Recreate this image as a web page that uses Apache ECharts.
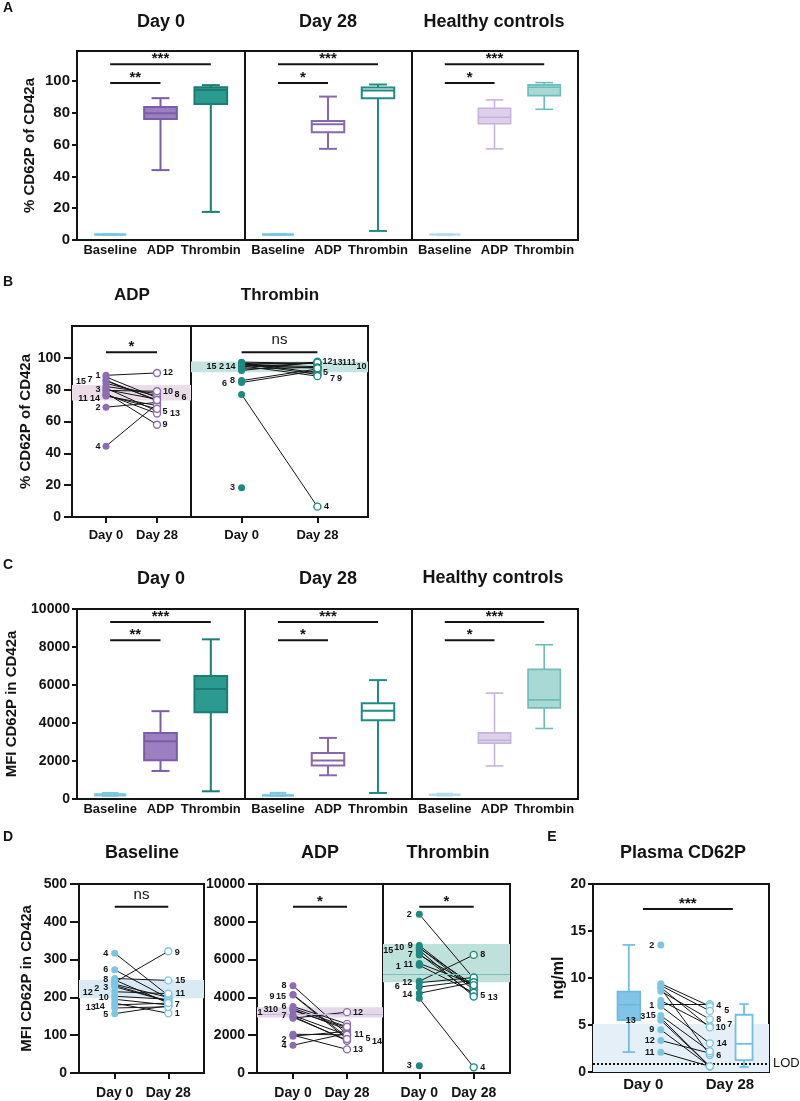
<!DOCTYPE html>
<html>
<head>
<meta charset="utf-8">
<title>CD62P</title>
<script src="https://cdn.jsdelivr.net/npm/echarts@6/dist/echarts.min.js"></script>
<style>
html, body { margin: 0; padding: 0; background: #fff; }
#chart { width: 800px; height: 1101px; }
</style>
</head>
<body>
<div id="chart"></div>
<script>
// ---------- data ----------
const boxCats = ['Baseline', 'ADP', 'Thrombin'];
const dayCats = ['Day 0', 'Day 28'];
const pctTicks = [0, 20, 40, 60, 80, 100];
const mfiTicks = [0, 2000, 4000, 6000, 8000, 10000];
const baseMfiTicks = [0, 100, 200, 300, 400, 500];
const plasmaTicks = [0, 5, 10, 15, 20];

// box stats [min, q1, median, q3, max]; order Baseline, ADP, Thrombin
const pctDay0 = [[3.1, 3.3, 3.4, 3.6, 3.8], [44.0, 76.2, 79.8, 83.8, 89.3], [17.7, 85.7, 94.5, 96.2, 97.5]];
const pctDay28 = [[3.1, 3.3, 3.4, 3.6, 3.8], [57.4, 67.8, 72.9, 74.9, 90.3], [5.7, 89.3, 94.1, 96.0, 97.9]];
const pctHealthy = [[3.1, 3.3, 3.4, 3.6, 3.8], [57.4, 73.2, 77.3, 83.0, 88.2], [82.3, 90.9, 96.2, 97.7, 99.1]];
const mfiDay0 = [[157, 185, 228, 246, 317], [1476, 2040, 3042, 3480, 4623], [406, 4570, 5783, 6468, 8403]];
const mfiDay28 = [[158, 180, 190, 205, 322], [1249, 1760, 2024, 2425, 3216], [316, 4149, 4639, 5045, 6257]];
const mfiHealthy = [[170, 198, 222, 246, 290], [1740, 2936, 3094, 3480, 5572], [3711, 4797, 5219, 6821, 8118]];
const plasmaDay0Box = [2.12, 5.52, 7.15, 8.56, 13.52];
const plasmaDay28Box = [0.53, 1.27, 3.0, 6.09, 7.22];

// paired values, patients 1..15 (null = not measured)
const adpPctD0 = [88, 69, 80, 44.5, 81, 84, 86, 82, 78, 79.5, 76, 89, 77, 76.5, 85.5];
const adpPctD28 = [75, 72, 74, 71, 66.5, 76, 73, 77.5, 58, 79, 70, 90.5, 65, 68, 73.5];
const thrPctD0 = [96, 95.5, 18.3, 77, 97, 84.5, 96.5, 85.7, 95, 97.3, 94, 92, 96, 93, 95.5];
const thrPctD28 = [96.5, 94.5, null, 6.5, 90.5, 92, 89.5, 93, 88.5, 96.5, 96.8, 97.5, 97, 94, 93.5];
const baseMfiD0 = [185, 235, 228, 317, 157, 273, 195, 246, 240, 203, 215, 232, 172, 180, 250];
const baseMfiD28 = [158, 200, 190, 205, 178, 198, 180, 185, 322, 195, 210, 190, 175, 185, 245];
const adpMfiD0 = [3300, 1950, 3350, 1470, 2950, 3520, 3050, 4620, 4150, 3420, 2050, 2900, 2000, 3000, 4130];
const adpMfiD28 = [2400, 2200, 2300, 2100, 1750, 2600, 2000, 2050, 1900, 2450, 2020, 3220, 1250, 1700, 1800];
const thrMfiD0 = [5800, 8400, 380, 3950, 6300, 4550, 6250, 4850, 6750, 6650, 5700, 4780, 6500, 4220, 6600];
const thrMfiD28 = [4700, 5000, null, 300, 4150, 4900, 4600, 6250, 4500, 4400, 4250, 5050, 4050, 4800, 4650];
const plasmaD0 = [7.2, 13.5, 5.75, 9.4, 9.2, 8.9, 7.6, 8.6, 4.5, 9.0, 2.1, 3.35, 5.5, 7.0, 6.0];
const plasmaD28 = [7.2, null, 0.6, 7.0, 6.5, 1.8, 4.9, 5.6, 0.6, 4.75, 0.6, 2.0, 0.6, 3.05, 2.2];
const plasmaRefRange = [0, 5.1];
const plasmaLod = 0.9;

// significance bars [from, to, level] and their marks
const sigPctBars = [[0, 2, 110.7], [0, 1, 98.9]];
const sigMfiBars = [[0, 2, 9310], [0, 1, 8350]];
const sigDay0 = ['***', '**'];
const sigOther = ['***', '*'];
const sigPairPct = [[0, 1, 103.5]];
const sigBaseMfi = [[0, 1, 440]];
const sigPairMfi = [[0, 1, 8800]];
const sigPlasma = [[0.44, 3.25, 17.35]];

// ---------- styles ----------
const FONT = "'Liberation Sans', Arial, Helvetica, sans-serif";
const INK = '#141414';
const PURPLE = '#8c6cb2';
const TEAL = '#1c8a80';
const SKY = '#7cc6e4';

const LOOK = {
  base: { fill: '#a9daed', stroke: '#7cc6e3', lw: 2, w: 0.6 },
  baseHc: { fill: '#d3ecf5', stroke: '#b3dcec', lw: 1.6, w: 0.6 },
  adp0: { fill: '#9b7fc1', stroke: '#7b5da7', lw: 2, w: 0.65 },
  thr0: { fill: '#2b9b90', stroke: '#1b7d74', lw: 2, w: 0.65 },
  adp28: { fill: '#ffffff', stroke: '#8768ae', lw: 2, w: 0.65 },
  thr28: { fill: '#ffffff', stroke: '#1f8c82', lw: 2, w: 0.65 },
  adpHc: { fill: '#ddd0ea', stroke: '#c6b3dc', lw: 1.6, w: 0.65 },
  thrHc: { fill: '#a9d9d4', stroke: '#6dbeb6', lw: 1.6, w: 0.65 },
  pl0: { fill: '#80c5e8', stroke: '#6ab9df', lw: 1.6, w: 0.71 },
  pl28: { fill: '#ffffff', stroke: '#6ec1e4', lw: 1.8, w: 0.53 }
};

// patient label offsets [dx, dy] in px from the point
const LBL = {
  bAdp0: { 15: [-25, 1], 7: [-16, -1], 1: [-8, -1], 3: [-8, 0], 11: [-23, 2], 14: [-11, 3], 2: [-8, 0], 4: [-8, 0] },
  bAdp28: { 12: [11, 0], 10: [11, 0], 8: [20, 1], 6: [27, 1], 5: [8, 0], 13: [18, 0], 9: [8, 0] },
  bThr0: { 15: [-30, 2], 2: [-20, 2], 14: [-11, -2], 6: [-17, 1], 8: [-9, 0], 3: [-9, 0] },
  bThr28: { 12: [10, 0], 13: [20, 0], 1: [27, -1], 11: [34, 0], 10: [44, 3], 5: [8, 0], 7: [15, 4], 9: [22, 2], 4: [9, 0] },
  dBase0: { 4: [-9, 0], 6: [-9, 0], 8: [-9, 0], 3: [-9, 1], 2: [-18, 4], 12: [-27, 7], 10: [-11, 1], 14: [-15, 2], 13: [-24, 0], 5: [-9, 1] },
  dBase28: { 9: [9, 1], 15: [12, 0], 11: [12, 0], 7: [9, 0], 1: [9, 0] },
  dAdp0: { 8: [-9, 0], 9: [-21, 2], 15: [-12, 2], 6: [-9, 0], 10: [-20, 1], 3: [-27, 0], 1: [-33, 2], 7: [-9, 0], 2: [-9, 3], 4: [-9, 0] },
  dAdp28: { 12: [11, 0], 11: [12, 0], 5: [21, -1], 14: [30, 1], 13: [11, 0] },
  dThr0: { 2: [-10, 0], 9: [-9, 0], 10: [-20, 0], 15: [-31, 2], 7: [-9, 0], 1: [-21, 3], 11: [-11, -1], 12: [-12, 0], 6: [-22, 0], 14: [-12, 1], 3: [-10, 0] },
  dThr28: { 8: [9, 0], 5: [9, 1], 13: [19, 1], 4: [9, 0] },
  e0: { 2: [-9, 0], 1: [-9, 1], 15: [-10, 0], 3: [-18, -1], 13: [-30, 0], 9: [-9, 0], 12: [-11, 0], 11: [-11, 0] },
  e28: { 4: [9, -1], 5: [17, 0], 8: [9, 0], 10: [11, 0], 7: [20, -1], 14: [12, 0], 6: [9, 0] }
};

// ---------- builders ----------
const grids = [], xAxes = [], yAxes = [], series = [];

function nearest(list, v) {
  let best = 0;
  list.forEach((t, k) => { if (Math.abs(t - v) < Math.abs(list[best] - v)) best = k; });
  return best;
}

function panel(p) {
  const gi = grids.length;
  grids.push({ left: p.left, top: p.top, width: p.width, height: p.height, show: true, borderColor: INK, borderWidth: 2, backgroundColor: 'transparent' });
  xAxes.push({
    gridIndex: gi, type: 'value', min: p.xMin, max: p.xMax,
    axisLine: { show: false, onZero: false }, splitLine: { show: false },
    axisTick: { show: !!p.xTickLen, customValues: p.xAt, length: p.xTickLen || 0, lineStyle: { color: INK, width: 2 } },
    axisLabel: {
      customValues: p.xAt, formatter: v => p.xText[nearest(p.xAt, v)],
      color: INK, fontFamily: FONT, fontWeight: 'bold', fontSize: p.xSize, margin: p.xMargin
    }
  });
  yAxes.push({
    gridIndex: gi, type: 'value', min: 0, max: p.yMax, show: !!p.yTicks,
    axisLine: { show: false, onZero: false }, splitLine: { show: false },
    axisTick: { show: true, customValues: p.yTicks, length: p.yTickLen, lineStyle: { color: INK, width: 2 } },
    axisLabel: {
      customValues: p.yTicks, formatter: v => String(v),
      color: INK, fontFamily: FONT, fontWeight: 'bold', fontSize: p.ySize, margin: p.yMargin
    },
    name: p.yName || '', nameLocation: 'middle', nameRotate: 90, nameGap: p.nameGap,
    nameTextStyle: { color: INK, fontFamily: FONT, fontWeight: 'bold', fontSize: p.nameSize || 15 }
  });
  return gi;
}

function boxes(gi, xs, stats, looks) {
  series.push({
    type: 'custom', xAxisIndex: gi, yAxisIndex: gi, z: 4, silent: true,
    data: stats.map((s, k) => [xs[k]].concat(s)),
    renderItem(params, api) {
      const lk = looks[params.dataIndex];
      const x = api.value(0);
      const pt = d => api.coord([x, api.value(d)]);
      const lo = pt(1), q1 = pt(2), md = pt(3), q3 = pt(4), hi = pt(5);
      const half = api.size([lk.w, 0])[0] / 2;
      const cap = half * 0.55;
      const cx = lo[0];
      const ln = (x1, y1, x2, y2) => ({ type: 'line', shape: { x1, y1, x2, y2 }, style: { stroke: lk.stroke, lineWidth: lk.lw } });
      return {
        type: 'group', children: [
          ln(cx, hi[1], cx, q3[1]), ln(cx, q1[1], cx, lo[1]),
          ln(cx - cap, hi[1], cx + cap, hi[1]), ln(cx - cap, lo[1], cx + cap, lo[1]),
          { type: 'rect', shape: { x: cx - half, y: q3[1], width: half * 2, height: q1[1] - q3[1] }, style: { fill: lk.fill, stroke: lk.stroke, lineWidth: lk.lw } },
          ln(cx - half, md[1], cx + half, md[1])
        ]
      };
    }
  });
}

function sig(gi, bars, marks) {
  series.push({
    type: 'custom', xAxisIndex: gi, yAxisIndex: gi, z: 6, silent: true,
    data: bars,
    renderItem(params, api) {
      const a = api.coord([api.value(0), api.value(2)]);
      const b = api.coord([api.value(1), api.value(2)]);
      const mark = marks[params.dataIndex];
      const ns = mark === 'ns';
      return {
        type: 'group', children: [
          { type: 'line', shape: { x1: a[0], y1: a[1], x2: b[0], y2: b[1] }, style: { stroke: INK, lineWidth: 2 } },
          {
            type: 'text', x: (a[0] + b[0]) / 2, y: a[1] - (ns ? 12 : 5),
            style: {
              text: mark, align: 'center', verticalAlign: 'middle', textAlign: 'center', textVerticalAlign: 'middle',
              fill: INK, fontFamily: FONT, fontWeight: ns ? 'normal' : 'bold', fontSize: ns ? 15 : 15
            }
          }
        ]
      };
    }
  });
}

function band(gi, lo, hi, color, mid, midColor) {
  const s = {
    type: 'scatter', xAxisIndex: gi, yAxisIndex: gi, data: [], silent: true, z: 1,
    markArea: { silent: true, itemStyle: { color }, data: [[{ yAxis: lo }, { yAxis: hi }]] }
  };
  if (mid != null) {
    s.markLine = { silent: true, symbol: 'none', lineStyle: { color: midColor, width: 1, type: 'solid' }, label: { show: false }, data: [{ yAxis: mid }] };
  }
  series.push(s);
  return s;
}

function pairs(gi, x0, x1, d0, d28, color, lab0, lab28) {
  const links = [];
  d0.forEach((v, k) => { if (v != null && d28[k] != null) links.push({ coords: [[x0, v], [x1, d28[k]]] }); });
  series.push({
    type: 'lines', coordinateSystem: 'cartesian2d', xAxisIndex: gi, yAxisIndex: gi, z: 3, silent: true,
    data: links, lineStyle: { color: INK, width: 1, opacity: 1 }
  });
  const pts = (vals, x, lab) => vals.map((v, k) => v == null ? null : {
    value: [x, v],
    label: lab[k + 1] ? { show: true, formatter: String(k + 1), offset: lab[k + 1] } : { show: false }
  }).filter(Boolean);
  const label = { position: 'inside', color: INK, fontFamily: FONT, fontWeight: 'bold', fontSize: 9 };
  series.push({
    type: 'scatter', xAxisIndex: gi, yAxisIndex: gi, z: 5, silent: true, symbolSize: 7,
    data: pts(d0, x0, lab0), itemStyle: { color, opacity: 1 }, label
  });
  series.push({
    type: 'scatter', xAxisIndex: gi, yAxisIndex: gi, z: 5, silent: true, symbolSize: 7,
    data: pts(d28, x1, lab28), itemStyle: { color: '#fff', borderColor: color, borderWidth: 1.4, opacity: 1 }, label
  });
}

// ---------- panel A ----------
const boxX = [0, 1, 2];
const boxPanel = (left, width, top, height, yMax, ticks, ySize, yName, nameGap) => panel({
  left, top, width, height, xMin: -0.66, xMax: 2.68, xAt: boxX, xText: boxCats, xSize: 13, xMargin: 4,
  yMax, yTicks: ticks, yTickLen: 5, ySize, yMargin: 7, yName, nameGap
});
const a0 = boxPanel(77, 168, 51, 189, 119, pctTicks, 15, '% CD62P of CD42a', 40);
const a1 = boxPanel(245, 167, 51, 189, 119, null);
const a2 = boxPanel(412, 166, 51, 189, 119, null);
boxes(a0, boxX, pctDay0, [LOOK.base, LOOK.adp0, LOOK.thr0]);
boxes(a1, boxX, pctDay28, [LOOK.base, LOOK.adp28, LOOK.thr28]);
boxes(a2, boxX, pctHealthy, [LOOK.baseHc, LOOK.adpHc, LOOK.thrHc]);
sig(a0, sigPctBars, sigDay0);
sig(a1, sigPctBars, sigOther);
sig(a2, sigPctBars, sigOther);

// ---------- panel B ----------
const dayX = [0, 1];
const pairPanel = (left, width, top, height, yMax, ticks, yName, nameGap, xSize, tickLen) => panel({
  left, top, width, height, xMin: -0.667, xMax: 1.667, xAt: dayX, xText: dayCats, xSize, xMargin: tickLen + 4, xTickLen: 6,
  yMax, yTicks: ticks, yTickLen: tickLen, ySize: 14, yMargin: tickLen + 3, yName, nameGap
});
const b0 = pairPanel(72, 119, 326, 191, 120, pctTicks, '% CD62P of CD42a', 38, 13, 8);
const b1 = pairPanel(191, 177, 326, 191, 120, null, '', 0, 13, 8);
band(b0, pctHealthy[1][1], pctHealthy[1][3], '#ebdde8');
band(b1, pctHealthy[2][1], pctHealthy[2][3], '#c3e4e1');
pairs(b0, 0, 1, adpPctD0, adpPctD28, PURPLE, LBL.bAdp0, LBL.bAdp28);
pairs(b1, 0, 1, thrPctD0, thrPctD28, TEAL, LBL.bThr0, LBL.bThr28);
sig(b0, sigPairPct, ['*']);
sig(b1, sigPairPct, ['ns']);

// ---------- panel C ----------
const c0 = boxPanel(77, 168, 609, 190, 10000, mfiTicks, 14, 'MFI CD62P in CD42a', 58);
const c1 = boxPanel(245, 167, 609, 190, 10000, null);
const c2 = boxPanel(412, 166, 609, 190, 10000, null);
boxes(c0, boxX, mfiDay0, [LOOK.base, LOOK.adp0, LOOK.thr0]);
boxes(c1, boxX, mfiDay28, [LOOK.base, LOOK.adp28, LOOK.thr28]);
boxes(c2, boxX, mfiHealthy, [LOOK.baseHc, LOOK.adpHc, LOOK.thrHc]);
sig(c0, sigMfiBars, sigDay0);
sig(c1, sigMfiBars, sigOther);
sig(c2, sigMfiBars, sigOther);

// ---------- panel D ----------
const d0 = pairPanel(79, 125, 884, 189, 500, baseMfiTicks, 'MFI CD62P in CD42a', 45, 14, 9);
const d1 = pairPanel(257, 126, 884, 189, 10000, mfiTicks, '', 0, 14, 9);
const d2 = pairPanel(383, 127, 884, 189, 10000, null, '', 0, 14, 9);
band(d0, mfiHealthy[0][1], mfiHealthy[0][3], '#d9eaf4');
band(d1, mfiHealthy[1][1], mfiHealthy[1][3], '#e4d9eb', mfiHealthy[1][2], '#c9b6dc');
band(d2, mfiHealthy[2][1], mfiHealthy[2][3], '#bfe1dc', mfiHealthy[2][2], '#7cbfb8');
pairs(d0, 0, 1, baseMfiD0, baseMfiD28, SKY, LBL.dBase0, LBL.dBase28);
pairs(d1, 0, 1, adpMfiD0, adpMfiD28, PURPLE, LBL.dAdp0, LBL.dAdp28);
pairs(d2, 0, 1, thrMfiD0, thrMfiD28, TEAL, LBL.dThr0, LBL.dThr28);
sig(d0, sigBaseMfi, ['ns']);
sig(d1, sigPairMfi, ['*']);
sig(d2, sigPairMfi, ['*']);

// ---------- panel E ----------
const e0 = panel({
  left: 593, top: 884, width: 176, height: 188, xMin: -1.12, xMax: 4.38, xAt: [0.45, 3.16], xText: dayCats, xSize: 15, xMargin: 5,
  yMax: 20, yTicks: plasmaTicks, yTickLen: 5, ySize: 14, yMargin: 7, yName: 'ng/ml', nameGap: 25, nameSize: 16
});
const eBand = band(e0, plasmaRefRange[0], plasmaRefRange[1], '#e5eff7');
eBand.markLine = {
  silent: true, symbol: 'none', lineStyle: { color: INK, width: 2, type: [2, 2] },
  label: { show: true, position: 'end', formatter: 'LOD', color: INK, fontFamily: FONT, fontSize: 13, distance: 4 },
  data: [{ yAxis: plasmaLod }]
};
boxes(e0, [0, 3.6], [plasmaDay0Box, plasmaDay28Box], [LOOK.pl0, LOOK.pl28]);
pairs(e0, 1, 2.53, plasmaD0, plasmaD28, SKY, LBL.e0, LBL.e28);
sig(e0, sigPlasma, ['***']);

// ---------- titles ----------
const heads = [
  ['A', 8, 8, 14], ['Day 0', 161, 22, 18], ['Day 28', 328, 22, 18], ['Healthy controls', 494, 22, 18],
  ['B', 8, 282, 14], ['ADP', 132, 295, 17], ['Thrombin', 280, 295, 17],
  ['C', 8, 565, 14], ['Day 0', 161, 579, 18], ['Day 28', 328, 579, 18], ['Healthy controls', 493, 578, 18],
  ['D', 8, 837, 14], ['Baseline', 142, 853, 18], ['ADP', 320, 853, 18], ['Thrombin', 448, 853, 18],
  ['E', 552, 837, 14], ['Plasma CD62P', 683, 853, 18]
];
const graphic = heads.map(([text, x, y, size]) => ({
  type: 'text', x, y, silent: true,
  style: {
    text, fill: INK, fontFamily: FONT, fontWeight: 'bold', fontSize: size,
    align: 'center', verticalAlign: 'middle', textAlign: 'center', textVerticalAlign: 'middle'
  }
}));

const chart = echarts.init(document.getElementById('chart'));
chart.setOption({
  animation: false,
  backgroundColor: '#fff',
  textStyle: { fontFamily: FONT },
  grid: grids,
  xAxis: xAxes,
  yAxis: yAxes,
  graphic,
  series
});
</script>
</body>
</html>
